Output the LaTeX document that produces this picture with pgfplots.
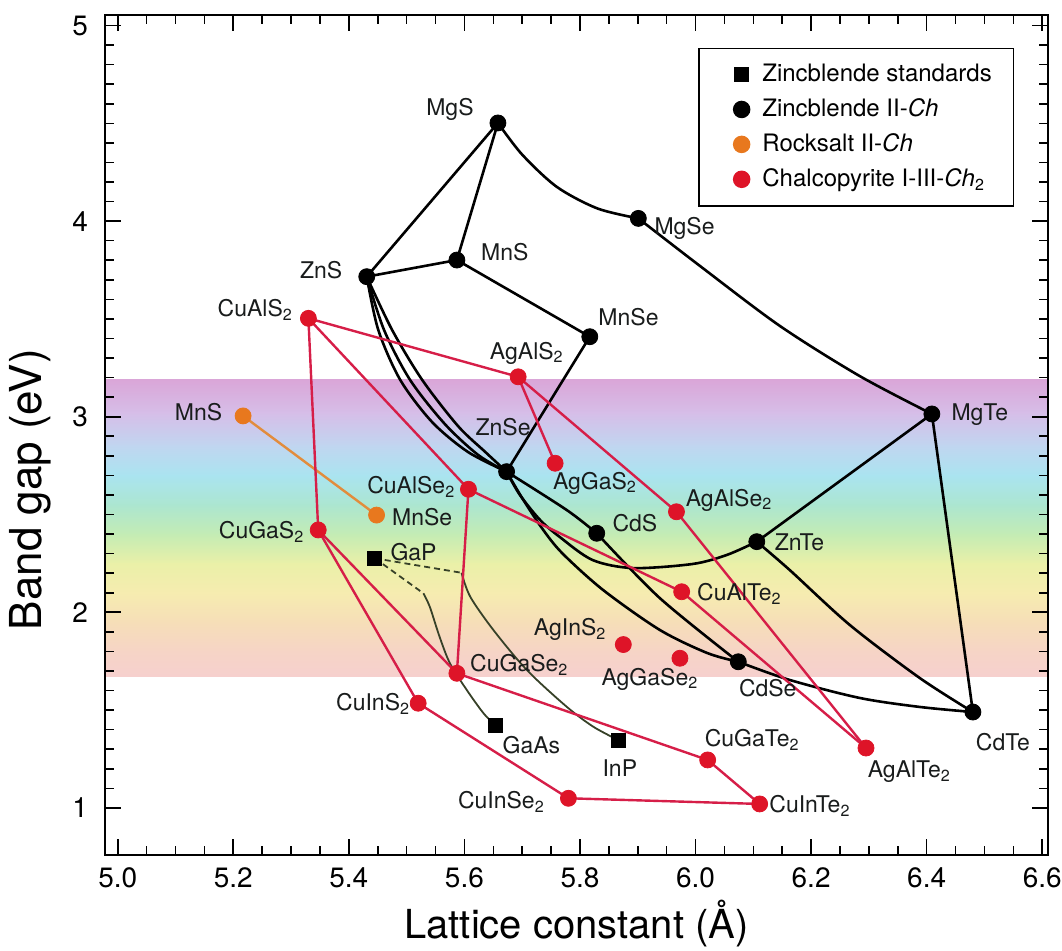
\documentclass[border=0pt]{standalone}
\usepackage{pgfplots}
\pgfplotsset{compat=1.18}
\usepackage{fontspec}
\setmainfont{TeX Gyre Heros}
\definecolor{cred}{RGB}{222,20,40}
\definecolor{lred}{RGB}{214,30,72}
\definecolor{corange}{RGB}{232,120,30}
\definecolor{lorange}{RGB}{226,140,60}
\definecolor{olv}{RGB}{55,65,40}
\definecolor{txt}{RGB}{25,28,28}
\definecolor{s1}{RGB}{218,166,216}
\definecolor{s2}{RGB}{214,190,232}
\definecolor{s3}{RGB}{192,214,240}
\definecolor{s4}{RGB}{170,228,240}
\definecolor{s5}{RGB}{172,230,208}
\definecolor{s6}{RGB}{196,236,180}
\definecolor{s7}{RGB}{234,240,168}
\definecolor{s8}{RGB}{246,236,176}
\definecolor{s9}{RGB}{246,222,184}
\definecolor{s10}{RGB}{246,212,198}
\definecolor{s11}{RGB}{246,208,206}
\tikzset{lab/.style={font=\fontsize{11.5}{11.5}\selectfont, inner sep=0pt, text=txt}}
\begin{document}
\begin{tikzpicture}
\begin{axis}[name=ax, scale only axis, width=471.5pt, height=420pt,
  xmin=4.978, xmax=6.610, ymin=0.759, ymax=5.054,
  axis on top,
  axis line style={line width=0.8pt},
  xtick={5.0,5.2,5.4,5.6,5.8,6.0,6.2,6.4,6.6},
  xticklabels={5.0,5.2,5.4,5.6,5.8,6.0,6.2,6.4,6.6},
  ytick={1,2,3,4,5},
  minor x tick num=3, minor y tick num=9,
  tick align=inside,
  major tick length=8pt, minor tick length=4.5pt,
  tick style={line width=0.8pt, black},
  /pgf/number format/assume math mode=true,
  tick label style={font=\fontsize{14}{14}\selectfont},
  xticklabel style={yshift=-3pt},
  yticklabel style={xshift=-5pt},
  xlabel={Lattice constant (Å)},
  ylabel={Band gap (eV)},
  xlabel style={font=\fontsize{20}{20}\selectfont, at={(axis description cs:0.5,-0.081)}, anchor=center},
  ylabel style={font=\fontsize{22}{22}\selectfont, at={(axis description cs:-0.079,0.435)}, anchor=center},
  legend image code/.code={\draw[#1] plot coordinates {(12pt,0pt)}; \path (0pt,0pt) (20pt,0pt);},
  legend style={at={(axis description cs:0.629,0.961)}, anchor=north west,
    draw=black, line width=0.75pt, fill=white,
    font=\fontsize{12}{14}\selectfont, inner xsep=9pt, inner ysep=6pt,
    row sep=3pt, cells={anchor=west}},
]
% visible-spectrum band
\fill[top color=s1, bottom color=s2, draw=none] (axis cs:4.978,3.015) rectangle (axis cs:6.610,3.19);
\fill[top color=s2, bottom color=s3, draw=none] (axis cs:4.978,2.845) rectangle (axis cs:6.610,3.02);
\fill[top color=s3, bottom color=s4, draw=none] (axis cs:4.978,2.695) rectangle (axis cs:6.610,2.85);
\fill[top color=s4, bottom color=s5, draw=none] (axis cs:4.978,2.545) rectangle (axis cs:6.610,2.70);
\fill[top color=s5, bottom color=s6, draw=none] (axis cs:4.978,2.395) rectangle (axis cs:6.610,2.55);
\fill[top color=s6, bottom color=s7, draw=none] (axis cs:4.978,2.245) rectangle (axis cs:6.610,2.40);
\fill[top color=s7, bottom color=s8, draw=none] (axis cs:4.978,2.095) rectangle (axis cs:6.610,2.25);
\fill[top color=s8, bottom color=s9, draw=none] (axis cs:4.978,1.945) rectangle (axis cs:6.610,2.10);
\fill[top color=s9, bottom color=s10, draw=none] (axis cs:4.978,1.795) rectangle (axis cs:6.610,1.95);
\fill[top color=s10, bottom color=s11, draw=none] (axis cs:4.978,1.67) rectangle (axis cs:6.610,1.80);

% legend
\addlegendimage{only marks, mark=square*, mark size=3.5pt, black}
\addlegendentry{Zincblende standards}
\addlegendimage{only marks, mark=*, mark size=4pt, black}
\addlegendentry{Zincblende II-\textit{Ch}}
\addlegendimage{only marks, mark=*, mark size=4pt, corange}
\addlegendentry{Rocksalt II-\textit{Ch}}
\addlegendimage{only marks, mark=*, mark size=4pt, cred}
\addlegendentry{Chalcopyrite I-III-\textit{Ch}\textsubscript{2}}

% zincblende standards lines
\addplot[forget plot, olv, line width=0.9pt, dash pattern=on 3pt off 2pt] coordinates {(5.445,2.276)(5.595,2.202)};
\addplot[forget plot, olv, line width=0.9pt, smooth] coordinates {(5.595,2.202)(5.610,2.080)(5.650,1.910)(5.708,1.705)(5.777,1.517)(5.823,1.415)(5.866,1.347)};
\addplot[forget plot, olv, line width=0.9pt, dash pattern=on 3pt off 2pt] coordinates {(5.445,2.276)(5.529,2.097)};
\addplot[forget plot, olv, line width=0.9pt, smooth] coordinates {(5.529,2.097)(5.540,2.029)(5.557,1.875)(5.575,1.739)(5.604,1.603)(5.633,1.484)(5.653,1.424)};

% rocksalt line
\addplot[forget plot, lorange, line width=1.2pt] coordinates {(5.217,3.004)(5.448,2.497)};

% zincblende II-Ch lines
\addplot[forget plot, black, line width=1.3pt] coordinates {(5.431,3.716)(5.658,4.502)};
\addplot[forget plot, black, line width=1.3pt] coordinates {(5.658,4.502)(5.587,3.801)};
\addplot[forget plot, black, line width=1.3pt] coordinates {(5.431,3.716)(5.587,3.801)};
\addplot[forget plot, black, line width=1.3pt] coordinates {(5.587,3.801)(5.817,3.409)};
\addplot[forget plot, black, line width=1.3pt] coordinates {(5.817,3.409)(5.673,2.719)};
\addplot[forget plot, black, line width=1.3pt] coordinates {(6.106,2.361)(6.409,3.014)};
\addplot[forget plot, black, line width=1.3pt] coordinates {(6.409,3.014)(6.480,1.490)};
\addplot[forget plot, black, line width=1.3pt, smooth] coordinates {(5.658,4.502)(5.700,4.340)(5.760,4.175)(5.830,4.065)(5.901,4.014)};
\addplot[forget plot, black, line width=1.3pt, smooth] coordinates {(5.901,4.014)(6.008,3.770)(6.146,3.464)(6.284,3.208)(6.409,3.014)};
\addplot[forget plot, black, line width=1.3pt, smooth] coordinates {(5.431,3.716)(5.451,3.443)(5.489,3.188)(5.544,2.973)(5.606,2.820)(5.673,2.719)};
\addplot[forget plot, black, line width=1.3pt, smooth] coordinates {(5.431,3.716)(5.461,3.443)(5.506,3.188)(5.566,2.963)(5.624,2.804)(5.673,2.719)};
\addplot[forget plot, black, line width=1.3pt, smooth] coordinates {(5.431,3.716)(5.475,3.443)(5.527,3.188)(5.589,2.952)(5.636,2.820)(5.673,2.719)};
\addplot[forget plot, black, line width=1.3pt, smooth] coordinates {(5.673,2.719)(5.777,2.523)(5.829,2.404)};
\addplot[forget plot, black, line width=1.3pt, smooth] coordinates {(5.673,2.719)(5.696,2.600)(5.731,2.472)(5.765,2.385)(5.822,2.267)(5.892,2.226)(5.995,2.247)(6.054,2.293)(6.106,2.361)};
\addplot[forget plot, black, line width=1.3pt, smooth] coordinates {(5.673,2.719)(5.700,2.584)(5.734,2.431)(5.769,2.303)(5.840,2.114)(5.938,1.910)(6.020,1.792)(6.074,1.747)};
\addplot[forget plot, black, line width=1.3pt, smooth] coordinates {(5.829,2.404)(5.938,2.073)(6.074,1.747)};
\addplot[forget plot, black, line width=1.3pt, smooth] coordinates {(6.074,1.747)(6.163,1.654)(6.284,1.562)(6.388,1.516)(6.480,1.490)};
\addplot[forget plot, black, line width=1.3pt, smooth] coordinates {(6.106,2.361)(6.163,2.216)(6.267,1.935)(6.388,1.664)(6.480,1.490)};

% chalcopyrite lines
\addplot[forget plot, lred, line width=1.2pt] coordinates {(5.330,3.503)(5.693,3.204)};
\addplot[forget plot, lred, line width=1.2pt] coordinates {(5.693,3.204)(5.757,2.762)};
\addplot[forget plot, lred, line width=1.2pt] coordinates {(5.693,3.204)(5.967,2.514)(6.295,1.306)};
\addplot[forget plot, lred, line width=1.2pt] coordinates {(5.330,3.503)(5.347,2.421)};
\addplot[forget plot, lred, line width=1.2pt] coordinates {(5.330,3.503)(5.607,2.629)(5.976,2.105)};
\addplot[forget plot, lred, line width=1.2pt] coordinates {(5.607,2.629)(5.587,1.688)};
\addplot[forget plot, lred, line width=1.2pt] coordinates {(5.976,2.105)(6.295,1.306)};
\addplot[forget plot, lred, line width=1.2pt] coordinates {(5.347,2.421)(5.587,1.688)(6.021,1.245)(6.111,1.020)};
\addplot[forget plot, lred, line width=1.2pt] coordinates {(5.347,2.421)(5.520,1.535)(5.780,1.049)(6.111,1.020)};

% markers
\addplot[forget plot, only marks, mark=square*, mark size=3.5pt, black] coordinates {(5.445,2.276)(5.653,1.424)(5.866,1.347)};
\addplot[forget plot, only marks, mark=*, mark size=4pt, corange] coordinates {(5.217,3.004)(5.448,2.497)};
\addplot[forget plot, only marks, mark=*, mark size=4pt, black] coordinates {
 (5.658,4.502)(5.901,4.014)(5.431,3.716)(5.587,3.801)(5.817,3.409)(6.409,3.014)
 (5.673,2.719)(5.829,2.404)(6.106,2.361)(6.074,1.747)(6.480,1.490)};
\addplot[forget plot, only marks, mark=*, mark size=4pt, cred] coordinates {
 (5.330,3.503)(5.693,3.204)(5.757,2.762)(5.607,2.629)(5.347,2.421)(5.967,2.514)
 (5.976,2.105)(5.875,1.835)(5.973,1.765)(5.587,1.688)(5.520,1.535)(5.780,1.049)
 (6.021,1.245)(6.295,1.306)(6.111,1.020)};

% labels
\node[lab] at (axis cs:5.575,4.573) {MgS};
\node[lab] at (axis cs:5.981,3.965) {MgSe};
\node[lab] at (axis cs:5.352,3.750) {ZnS};
\node[lab] at (axis cs:5.670,3.842) {MnS};
\node[lab] at (axis cs:5.884,3.510) {MnSe};
\node[lab] at (axis cs:6.492,3.013) {MgTe};
\node[lab] at (axis cs:5.667,2.947) {ZnSe};
\node[lab] at (axis cs:5.895,2.457) {CdS};
\node[lab] at (axis cs:6.180,2.359) {ZnTe};
\node[lab] at (axis cs:6.125,1.613) {CdSe};
\node[lab] at (axis cs:6.532,1.337) {CdTe};
\node[lab] at (axis cs:5.238,3.545) {CuAlS\textsubscript{2}};
\node[lab] at (axis cs:5.708,3.326) {AgAlS\textsubscript{2}};
\node[lab] at (axis cs:5.826,2.661) {AgGaS\textsubscript{2}};
\node[lab] at (axis cs:5.508,2.641) {CuAlSe\textsubscript{2}};
\node[lab] at (axis cs:5.249,2.410) {CuGaS\textsubscript{2}};
\node[lab] at (axis cs:6.058,2.574) {AgAlSe\textsubscript{2}};
\node[lab] at (axis cs:6.076,2.094) {CuAlTe\textsubscript{2}};
\node[lab] at (axis cs:5.783,1.910) {AgInS\textsubscript{2}};
\node[lab] at (axis cs:5.921,1.659) {AgGaSe\textsubscript{2}};
\node[lab] at (axis cs:5.695,1.731) {CuGaSe\textsubscript{2}};
\node[lab] at (axis cs:5.442,1.531) {CuInS\textsubscript{2}};
\node[lab] at (axis cs:5.664,1.030) {CuInSe\textsubscript{2}};
\node[lab] at (axis cs:6.098,1.347) {CuGaTe\textsubscript{2}};
\node[lab] at (axis cs:6.370,1.184) {AgAlTe\textsubscript{2}};
\node[lab] at (axis cs:6.198,1.010) {CuInTe\textsubscript{2}};
\node[lab] at (axis cs:5.140,3.024) {MnS};
\node[lab] at (axis cs:5.527,2.487) {MnSe};
\node[lab] at (axis cs:5.512,2.308) {GaP};
\node[lab] at (axis cs:5.716,1.322) {GaAs};
\node[lab] at (axis cs:5.869,1.204) {InP};
\end{axis}
\pgfresetboundingbox
\path[use as bounding box] ([xshift=-52.5pt,yshift=-47.5pt]ax.south west) rectangle ([xshift=7pt,yshift=7.5pt]ax.north east);
\end{tikzpicture}
\end{document}
